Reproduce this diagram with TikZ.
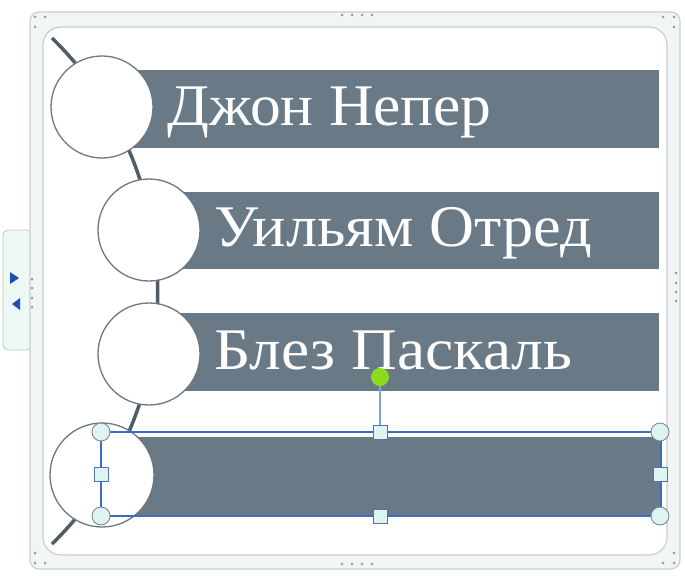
\documentclass[tikz,border=0pt]{standalone}
\usepackage{fontspec}
\setmainfont{Liberation Serif}
\definecolor{barcol}{RGB}{106,121,134}
\definecolor{spinecol}{RGB}{80,92,102}
\definecolor{circline}{RGB}{110,120,128}
\definecolor{framel}{RGB}{200,207,207}
\definecolor{frameband}{RGB}{242,245,245}
\definecolor{selblue}{RGB}{58,110,196}
\definecolor{handlefill}{RGB}{222,244,240}
\definecolor{handleline}{RGB}{120,130,135}
\definecolor{rotgreen}{RGB}{140,220,30}
\definecolor{rotline}{RGB}{120,170,210}
\definecolor{tabfill}{RGB}{238,249,246}
\definecolor{tabline}{RGB}{185,200,196}
\definecolor{tribl}{RGB}{30,80,175}
\definecolor{dotcol}{RGB}{150,158,160}
\begin{document}
\begin{tikzpicture}[x=1pt,y=-1pt,
  circ/.style={circle,draw=circline,line width=1.3pt,fill=white,inner sep=0pt,minimum size=102pt},
  barbox/.style={rectangle,fill=barcol,inner sep=0pt,anchor=north west,minimum width=557pt,minimum height=78pt},
  lbl/.style={anchor=base west,text=white,inner sep=0pt,font=\fontsize{59}{62}\selectfont},
  hcorner/.style={circle,draw=handleline,line width=0.8pt,fill=handlefill,inner sep=0pt,minimum size=18pt},
  hmid/.style={rectangle,draw=selblue!70!gray,line width=0.8pt,fill=handlefill,inner sep=0pt,minimum size=14pt},
  gdot/.style={circle,fill=dotcol,inner sep=0pt,minimum size=3pt}]
\useasboundingbox (0,0) rectangle (685,578);
% left tab
\draw[fill=tabfill,draw=tabline,line width=0.8pt,rounded corners=5pt] (3,230) rectangle (32,350);
\fill[tribl] (10,272) -- (19,278) -- (10,284) -- cycle;
\fill[tribl] (20,298) -- (12,304) -- (20,310) -- cycle;
% frame
\draw[fill=frameband,draw=framel,line width=1.2pt,rounded corners=9pt] (30,12) rectangle (680,569);
\draw[fill=white,draw=framel,line width=1.2pt,rounded corners=18pt] (43,27) rectangle (667,555);
% frame dots
\foreach \x in {342,352,362,372}{\node[gdot] at (\x,15) {}; \node[gdot] at (\x,564) {};}
\foreach \y in {279,288,298,307}{\node[gdot] at (32,\y) {};}
\foreach \y in {273,283,292,301}{\node[gdot] at (676,\y) {};}
\foreach \p in {(35,17),(45,17),(35,27),(663,17),(674,17),(674,27),(35,553),(35,563),(45,563),(674,553),(663,563),(674,563)}{\node[gdot] at \p {};}
% spine
\coordinate (st) at (52,38);
\coordinate (sb) at (52,544);
\draw[spinecol,line width=3.5pt] (st) to[bend left=45.6] (sb);
% bars
\node[barbox] (b1) at (102,70) {};
\node[barbox,minimum width=510pt,minimum height=77pt] (b2) at (149,192) {};
\node[barbox,minimum width=510pt,minimum height=78pt] (b3) at (149,313) {};
\node[barbox,minimum width=558pt,minimum height=78pt] (b4) at (102,437) {};
% circles
\node[circ] (c1) at (102,107) {};
\node[circ] (c2) at (149,230) {};
\node[circ] (c3) at (149,354) {};
\node[circ,minimum size=104pt] (c4) at (102,475) {};
% labels
\node[lbl] (t1) at (167,125) {\scalebox{1.042}[1]{Джон Непер}};
\node[lbl] (t2) at (214,246) {\scalebox{1.056}[1]{Уильям Отред}};
\node[lbl] (t3) at (214,369) {\scalebox{1.075}[1]{Блез Паскаль}};
% selection
\draw[selblue,line width=1.4pt] (101,432) rectangle (661,516);
\node[hmid] (hm1) at (380,432) {};
\node[hmid] (hm2) at (380,516) {};
\node[hmid] (hm3) at (101,474) {};
\node[hmid] (hm4) at (660,474) {};
\node[hcorner] (hc1) at (101,432) {};
\node[hcorner] (hc2) at (660,432) {};
\node[hcorner] (hc3) at (101,516) {};
\node[hcorner] (hc4) at (660,516) {};
\node[circle,fill=rotgreen,inner sep=0pt,minimum size=18pt] (rot) at (380,377) {};
\draw[rotline,line width=1.4pt] (rot) -- (hm1);
\end{tikzpicture}
\end{document}
